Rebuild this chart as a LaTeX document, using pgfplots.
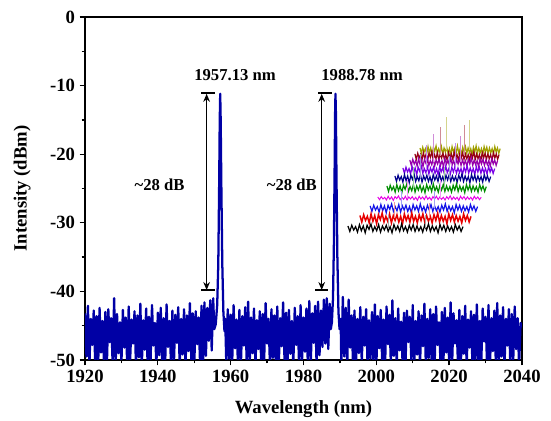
\documentclass[border=0pt]{standalone}
\usepackage{fontspec}
\setmainfont{Liberation Serif}
\usepackage{pgfplots}
\usepackage{pgfplotstable}
\pgfplotsset{compat=1.18}
\usetikzlibrary{arrows.meta}
\definecolor{mainblue}{RGB}{0,0,165}
\definecolor{cA}{RGB}{0,0,0}
\definecolor{cB}{RGB}{230,0,0}
\definecolor{cC}{RGB}{20,20,230}
\definecolor{cD}{RGB}{230,0,230}
\definecolor{cE}{RGB}{0,140,0}
\definecolor{cF}{RGB}{0,0,140}
\definecolor{cG}{RGB}{120,0,230}
\definecolor{cH}{RGB}{150,0,170}
\definecolor{cI}{RGB}{150,0,20}
\definecolor{cJ}{RGB}{160,160,0}

\pgfplotstableread[row sep=\\]{
x y\\
1920.0 -43.2\\ 1920.4 -49.5\\ 1920.8 -42.1\\ 1921.2 -51\\ 1921.6 -44.0\\ 1922.0 -47.8\\ 1922.4 -42.8\\ 1922.8 -50.5\\
1923.2 -43.6\\ 1923.6 -51\\ 1924.0 -42.4\\ 1924.4 -48.9\\ 1924.8 -44.3\\ 1925.2 -50.2\\ 1925.6 -43.0\\ 1926.0 -51\\
1926.4 -42.6\\ 1926.8 -47.4\\ 1927.2 -43.9\\ 1927.6 -50.8\\ 1928.0 -41.0\\ 1928.4 -51\\ 1928.8 -43.3\\ 1929.2 -49.0\\
1929.6 -44.5\\ 1930.0 -50.6\\ 1930.4 -42.7\\ 1930.8 -48.2\\ 1931.2 -43.8\\ 1931.6 -51\\ 1932.0 -42.2\\ 1932.4 -50.0\\
1932.8 -44.1\\ 1933.2 -47.6\\ 1933.6 -42.9\\ 1934.0 -51\\ 1934.4 -43.5\\ 1934.8 -49.6\\ 1935.2 -41.8\\ 1935.6 -50.9\\
1936.0 -44.2\\ 1936.4 -48.5\\ 1936.8 -42.5\\ 1937.2 -51\\ 1937.6 -43.7\\ 1938.0 -50.3\\ 1938.4 -42.0\\ 1938.8 -47.9\\
1939.2 -44.6\\ 1939.6 -51\\ 1940.0 -43.1\\ 1940.4 -49.3\\ 1940.8 -42.4\\ 1941.2 -50.7\\ 1941.6 -43.9\\ 1942.0 -51\\
1942.4 -41.9\\ 1942.8 -48.1\\ 1943.2 -44.3\\ 1943.6 -50.4\\ 1944.0 -42.8\\ 1944.4 -51\\ 1944.8 -43.4\\ 1945.2 -47.5\\
1945.6 -42.3\\ 1946.0 -50.8\\ 1946.4 -44.0\\ 1946.8 -49.2\\ 1947.2 -42.6\\ 1947.6 -51\\ 1948.0 -43.5\\ 1948.4 -48.7\\
1948.8 -41.7\\ 1949.2 -50.1\\ 1949.6 -43.2\\ 1950.0 -51\\ 1950.4 -42.9\\ 1950.8 -47.7\\ 1951.2 -43.8\\ 1951.6 -50.6\\
1952.0 -42.1\\ 1952.4 -51\\ 1952.8 -41.6\\ 1953.2 -49.4\\ 1953.6 -42.4\\ 1954.0 -47.2\\ 1954.4 -41.3\\ 1954.8 -48.6\\
1955.2 -41.0\\
1955.5 -45.5\\ 1955.9 -44.8\\ 1956.3 -42.0\\ 1956.6 -36.0\\ 1956.85 -24.0\\ 1957.0 -15.0\\ 1957.13 -11.2\\ 1957.26 -15.0\\
1957.45 -25.0\\ 1957.7 -36.0\\ 1958.0 -43.0\\ 1958.3 -45.8\\ 1958.5 -44.0\\
1958.8 -50.5\\ 1959.2 -42.6\\ 1959.6 -49.8\\ 1960.0 -43.4\\ 1960.4 -51\\ 1960.8 -42.0\\ 1961.2 -48.3\\ 1961.6 -44.1\\
1962.0 -50.7\\ 1962.4 -42.7\\ 1962.8 -51\\ 1963.2 -43.6\\ 1963.6 -47.9\\ 1964.0 -42.3\\ 1964.4 -50.2\\ 1964.8 -41.5\\
1965.2 -51\\ 1965.6 -43.8\\ 1966.0 -49.0\\ 1966.4 -42.5\\ 1966.8 -50.9\\ 1967.2 -44.2\\ 1967.6 -48.4\\ 1968.0 -42.9\\
1968.4 -51\\ 1968.8 -43.3\\ 1969.2 -50.0\\ 1969.6 -41.7\\ 1970.0 -47.6\\ 1970.4 -44.0\\ 1970.8 -51\\ 1971.2 -42.6\\
1971.6 -49.7\\ 1972.0 -43.5\\ 1972.4 -50.5\\ 1972.8 -42.2\\ 1973.2 -51\\ 1973.6 -43.9\\ 1974.0 -48.0\\ 1974.4 -41.6\\
1974.8 -50.3\\ 1975.2 -43.1\\ 1975.6 -51\\ 1976.0 -42.7\\ 1976.4 -49.1\\ 1976.8 -44.3\\ 1977.2 -50.8\\ 1977.6 -42.4\\
1978.0 -47.8\\ 1978.4 -43.6\\ 1978.8 -51\\ 1979.2 -42.0\\ 1979.6 -50.1\\ 1980.0 -43.8\\ 1980.4 -48.8\\ 1980.8 -42.5\\
1981.2 -51\\ 1981.6 -41.4\\ 1982.0 -50.4\\ 1982.4 -43.2\\ 1982.8 -47.5\\ 1983.2 -42.1\\ 1983.6 -51\\ 1984.0 -41.5\\
1984.4 -49.3\\ 1984.8 -42.8\\ 1985.2 -48.1\\ 1985.6 -41.2\\ 1986.0 -47.6\\ 1986.4 -41.0\\ 1986.8 -48.4\\ 1987.2 -41.8\\
1987.5 -45.5\\ 1987.8 -44.5\\ 1988.1 -41.0\\ 1988.35 -33.0\\ 1988.55 -22.0\\ 1988.68 -14.0\\ 1988.78 -11.2\\ 1988.9 -14.0\\
1989.05 -23.0\\ 1989.3 -35.0\\ 1989.6 -43.0\\ 1989.9 -45.5\\ 1990.2 -44.0\\
1990.4 -50.8\\ 1990.8 -40.8\\ 1991.2 -49.5\\ 1991.6 -42.4\\ 1992.0 -51\\ 1992.4 -41.2\\ 1992.8 -48.2\\ 1993.2 -43.5\\
1993.6 -50.6\\ 1994.0 -42.8\\ 1994.4 -51\\ 1994.8 -44.0\\ 1995.2 -49.0\\ 1995.6 -42.3\\ 1996.0 -50.3\\ 1996.4 -43.7\\
1996.8 -47.9\\ 1997.2 -42.6\\ 1997.6 -51\\ 1998.0 -44.2\\ 1998.4 -49.8\\ 1998.8 -43.0\\ 1999.2 -50.7\\ 1999.6 -41.9\\
2000.0 -51\\ 2000.4 -43.6\\ 2000.8 -48.3\\ 2001.2 -42.7\\ 2001.6 -50.2\\ 2002.0 -44.1\\ 2002.4 -51\\ 2002.8 -42.2\\
2003.2 -47.7\\ 2003.6 -43.4\\ 2004.0 -50.9\\ 2004.4 -41.3\\ 2004.8 -49.4\\ 2005.2 -43.9\\ 2005.6 -51\\ 2006.0 -42.5\\
2006.4 -48.6\\ 2006.8 -44.4\\ 2007.2 -50.4\\ 2007.6 -43.1\\ 2008.0 -51\\ 2008.4 -42.8\\ 2008.8 -47.4\\ 2009.2 -43.7\\
2009.6 -50.0\\ 2010.0 -42.0\\ 2010.4 -51\\ 2010.8 -44.3\\ 2011.2 -49.2\\ 2011.6 -42.9\\ 2012.0 -50.8\\ 2012.4 -43.5\\
2012.8 -48.0\\ 2013.2 -41.8\\ 2013.6 -51\\ 2014.0 -44.0\\ 2014.4 -49.7\\ 2014.8 -42.6\\ 2015.2 -50.5\\ 2015.6 -43.3\\
2016.0 -51\\ 2016.4 -42.2\\ 2016.8 -47.8\\ 2017.2 -44.5\\ 2017.6 -50.1\\ 2018.0 -43.0\\ 2018.4 -51\\ 2018.8 -42.4\\
2019.2 -48.9\\ 2019.6 -43.8\\ 2020.0 -50.6\\ 2020.4 -41.6\\ 2020.8 -51\\ 2021.2 -43.2\\ 2021.6 -47.6\\ 2022.0 -44.2\\
2022.4 -50.3\\ 2022.8 -42.7\\ 2023.2 -51\\ 2023.6 -43.6\\ 2024.0 -49.1\\ 2024.4 -42.1\\ 2024.8 -50.9\\ 2025.2 -44.1\\
2025.6 -48.2\\ 2026.0 -42.9\\ 2026.4 -51\\ 2026.8 -43.4\\ 2027.2 -49.9\\ 2027.6 -41.9\\ 2028.0 -50.4\\ 2028.4 -44.3\\
2028.8 -51\\ 2029.2 -42.5\\ 2029.6 -47.3\\ 2030.0 -43.7\\ 2030.4 -50.7\\ 2030.8 -42.0\\ 2031.2 -51\\ 2031.6 -43.9\\
2032.0 -48.7\\ 2032.4 -42.8\\ 2032.8 -50.2\\ 2033.2 -41.7\\ 2033.6 -51\\ 2034.0 -43.5\\ 2034.4 -49.5\\ 2034.8 -42.3\\
2035.2 -50.8\\ 2035.6 -44.0\\ 2036.0 -47.9\\ 2036.4 -42.6\\ 2036.8 -51\\ 2037.2 -43.3\\ 2037.6 -50.0\\ 2038.0 -42.2\\
2038.4 -48.4\\ 2038.8 -43.9\\ 2039.2 -51\\ 2039.6 -44.6\\ 2040.0 -45.2\\
}\mainspec

\pgfplotstableread[row sep=\\]{
t y\\
0 0.3\\ 1 -0.5\\ 2 0.4\\ 3 -0.3\\ 4 0.2\\ 5 -0.6\\ 6 0.5\\ 7 -0.4\\ 8 0.3\\ 9 -0.7\\
10 0.4\\ 11 -0.2\\ 12 0.6\\ 13 -0.5\\ 14 0.2\\ 15 -0.4\\ 16 0.5\\ 17 -0.6\\ 18 0.3\\ 19 -0.3\\
20 0.4\\ 21 -0.5\\ 22 0.2\\ 23 -0.7\\ 24 0.5\\ 25 -0.3\\ 26 0.3\\ 27 -0.5\\ 28 0.6\\ 29 -0.4\\
30 0.2\\ 31 -0.6\\ 32 0.4\\ 33 -0.3\\ 34 0.5\\ 35 -0.5\\ 36 0.3\\ 37 -0.4\\ 38 0.2\\ 39 -0.6\\
40 0.4\\ 41 -0.3\\ 42 0.6\\ 43 -0.5\\ 44 0.3\\ 45 -0.4\\ 46 0.2\\ 47 -0.7\\ 48 0.5\\ 49 -0.3\\
50 0.4\\ 51 -0.5\\ 52 0.3\\ 53 -0.4\\ 54 0.2\\ 55 -0.6\\ 56 0.5\\ 57 -0.3\\ 58 0.3\\ 59 -0.5\\
60 0.2\\
}\insetnoise

\begin{document}
\begin{tikzpicture}
\begin{axis}[
  scale only axis, width=327.75pt, height=257.25pt,
  xmin=1920, xmax=2040, ymin=-50, ymax=0,
  xtick={1920,1940,...,2040}, ytick={-50,-40,...,0},
  minor x tick num=1, minor y tick num=1,
  tick align=outside, tick pos=left,
  major tick length=4pt, minor tick length=2.5pt,
  every tick/.style={black, line width=1pt},
  axis line style={line width=1.2pt},
  /pgf/number format/assume math mode=true,
  /pgf/number format/set thousands separator={},
  tick label style={font=\bfseries\fontsize{14}{14}\selectfont},
  xlabel={Wavelength (nm)}, ylabel={Intensity (dBm)},
  label style={font=\bfseries\fontsize{14}{16}\selectfont},
  xlabel style={at={(axis description cs:0.5,-0.143)}, anchor=center},
  ylabel style={at={(axis description cs:-0.144,0.5)}, anchor=center},
  unbounded coords=jump,
]
\addplot[mainblue, line width=1.7pt, line join=round, mark=none] table[x=x, y=y] {\mainspec};

% inset traces (top first)
\addplot[cJ, line width=0.9pt] table[x expr=2012.0+\thisrow{t}*22.0/60, y expr=-19.39+\thisrow{y}] {\insetnoise};
\addplot[cJ!45!white, line width=0.7pt] coordinates {(2019.3,-19.39) (2019.3,-14.6) (2019.3,nan) (2025.7,-19.39) (2025.7,-15.0)};
\addplot[cI, line width=0.9pt] table[x expr=2010.6+\thisrow{t}*23.1/60, y expr=-20.26+\thisrow{y}] {\insetnoise};
\addplot[cI!45!white, line width=0.7pt] coordinates {(2017.5,-20.26) (2017.5,-16.0) (2017.5,nan) (2024.3,-20.26) (2024.3,-15.8)};
\addplot[cH, line width=0.9pt] table[x expr=2009.2+\thisrow{t}*24.1/60, y expr=-21.14+\thisrow{y}] {\insetnoise};
\addplot[cH!45!white, line width=0.7pt] coordinates {(2015.7,-21.14) (2015.7,-17.0) (2015.7,nan) (2023.0,-21.14) (2023.0,-17.3)};
\addplot[cG, line width=0.9pt] table[x expr=2007.3+\thisrow{t}*25.2/60, y expr=-22.30+\thisrow{y}] {\insetnoise};
\addplot[cG!45!white, line width=0.7pt] coordinates {(2013.9,-22.30) (2013.9,-18.6) (2013.9,nan) (2021.6,-22.30) (2021.6,-18.4)};
\addplot[cF, line width=0.9pt] table[x expr=2005.1+\thisrow{t}*26.3/60, y expr=-23.47+\thisrow{y}] {\insetnoise};
\addplot[cF!40!white, line width=0.7pt] coordinates {(2012.1,-23.47) (2012.1,-20.0) (2012.1,nan) (2020.2,-23.47) (2020.2,-20.3)};
\addplot[cE, line width=0.9pt] table[x expr=2002.9+\thisrow{t}*27.3/60, y expr=-24.93+\thisrow{y}] {\insetnoise};
\addplot[cE!40!white, line width=0.7pt] coordinates {(2010.3,-24.93) (2010.3,-21.8) (2010.3,nan) (2018.8,-24.93) (2018.8,-21.9)};
\addplot[cD, line width=0.7pt] table[x expr=2000.4+\thisrow{t}*28.4/60, y expr=-26.38+0.5*\thisrow{y}] {\insetnoise};
\addplot[cD!40!white, line width=0.7pt] coordinates {(2008.6,-26.38) (2008.6,-23.6) (2008.6,nan) (2017.5,-26.38) (2017.5,-23.7)};
\addplot[cC, line width=0.9pt] table[x expr=1998.3+\thisrow{t}*29.5/60, y expr=-27.84+\thisrow{y}] {\insetnoise};
\addplot[cC!40!white, line width=0.7pt] coordinates {(2006.8,-27.84) (2006.8,-25.3) (2006.8,nan) (2016.1,-27.84) (2016.1,-25.4)};
\addplot[cB, line width=1.1pt] table[x expr=1995.5+\thisrow{t}*30.5/60, y expr=-29.30+1.2*\thisrow{y}] {\insetnoise};
\addplot[cB!40!white, line width=0.7pt] coordinates {(2005.0,-29.30) (2005.0,-27.0) (2005.0,nan) (2014.7,-29.30) (2014.7,-27.1)};
\addplot[cA, line width=0.9pt] table[x expr=1992.2+\thisrow{t}*31.6/60, y expr=-30.76+\thisrow{y}] {\insetnoise};
\addplot[cA!35!white, line width=0.7pt] coordinates {(2003.2,-30.76) (2003.2,-28.8) (2003.2,nan) (2013.4,-30.76) (2013.4,-28.9)};

% annotations
\draw[line width=0.9pt, {Stealth[length=6pt,width=5pt]}-{Stealth[length=6pt,width=5pt]}] (axis cs:1953.4,-11.2) -- (axis cs:1953.4,-39.8);
\draw[line width=1.3pt] (axis cs:1951.9,-11.1) -- (axis cs:1955.7,-11.1);
\draw[line width=1.3pt] (axis cs:1951.9,-39.8) -- (axis cs:1955.7,-39.8);
\draw[line width=0.9pt, {Stealth[length=6pt,width=5pt]}-{Stealth[length=6pt,width=5pt]}] (axis cs:1985.0,-11.2) -- (axis cs:1985.0,-39.8);
\draw[line width=1.3pt] (axis cs:1984.0,-11.1) -- (axis cs:1987.8,-11.1);
\draw[line width=1.3pt] (axis cs:1983.2,-39.8) -- (axis cs:1986.7,-39.8);
\node[font=\bfseries\fontsize{12.5}{12.5}\selectfont] at (axis cs:1961.2,-8.45) {1957.13 nm};
\node[font=\bfseries\fontsize{12.5}{12.5}\selectfont] at (axis cs:1996.1,-8.45) {1988.78 nm};
\node[font=\bfseries\fontsize{12.5}{12.5}\selectfont] at (axis cs:1940.5,-24.5) {\textasciitilde28 dB};
\node[font=\bfseries\fontsize{12.5}{12.5}\selectfont] at (axis cs:1976.8,-24.5) {\textasciitilde28 dB};
\end{axis}
\pgfresetboundingbox
\path[use as bounding box] ([shift={(-63.75pt,-45.75pt)}]current axis.south west) rectangle ([shift={(349.5pt,270pt)}]current axis.south west);
\end{tikzpicture}
\end{document}
